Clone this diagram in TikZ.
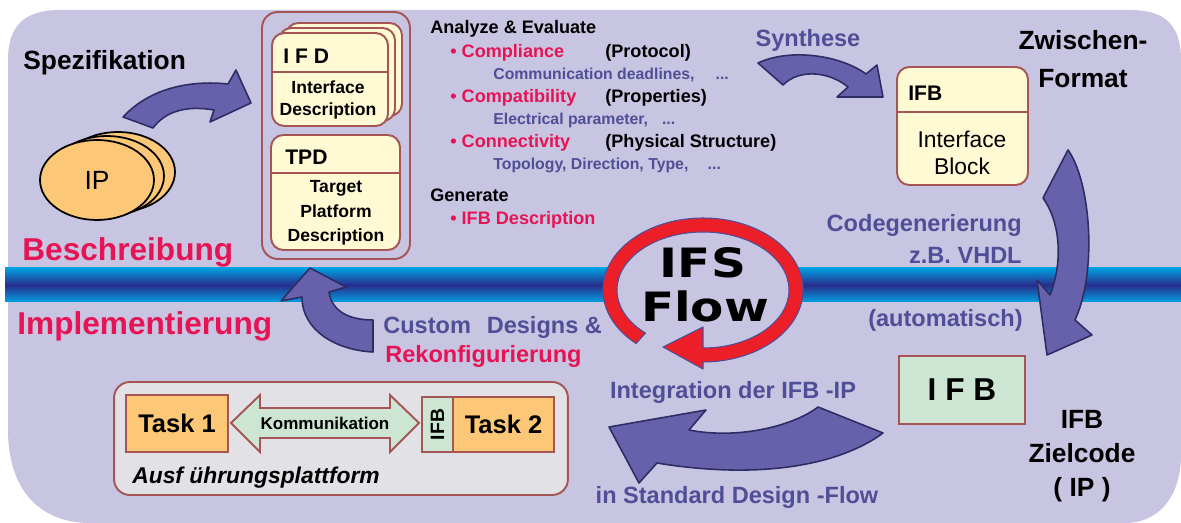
\documentclass[tikz,border=0pt]{standalone}
\usepackage{fontspec}
\setmainfont{Liberation Sans}
\newfontfamily\flowfont{DejaVu Sans}
\usetikzlibrary{shapes.geometric,positioning}
\definecolor{bgLav}{RGB}{200,197,226}
\definecolor{bandLight}{RGB}{0,160,225}
\definecolor{bandDark}{RGB}{40,45,140}
\definecolor{arrowFill}{RGB}{103,97,172}
\definecolor{arrowEdge}{RGB}{45,45,100}
\definecolor{boxEdge}{RGB}{165,85,85}
\definecolor{cardFill}{RGB}{255,250,212}
\definecolor{ipOrange}{RGB}{252,200,120}
\definecolor{ifbGreen}{RGB}{205,230,212}
\definecolor{platGray}{RGB}{226,226,230}
\definecolor{ringRed}{RGB}{236,30,40}
\definecolor{hotPink}{RGB}{230,20,85}
\definecolor{flowBlue}{RGB}{80,78,150}

\begin{document}
\begin{tikzpicture}[x=0.02cm, y=-0.02cm,
  fatarrow/.style={fill=arrowFill, draw=arrowEdge, line width=0.9pt, line join=round},
  solidbox/.style={draw=boxEdge, line width=1.1pt},
  card/.style={solidbox, fill=cardFill, rounded corners=7pt},
  ipblob/.style={ellipse, draw=black, line width=1pt, fill=ipOrange,
                 minimum width=2.28cm, minimum height=1.6cm, inner sep=0pt},
  title/.style={inner sep=0pt, font=\bfseries\fontsize{18}{20}\selectfont, text=hotPink},
  headtext/.style={inner sep=0pt, font=\bfseries\fontsize{15}{21.5}\selectfont, align=center},
  flowlabel/.style={inner sep=0pt, font=\bfseries\fontsize{13.4}{15}\selectfont, text=flowBlue},
  listhead/.style={inner sep=0pt, anchor=west, font=\bfseries\fontsize{10.3}{12}\selectfont},
  listred/.style={listhead, text=hotPink},
  listsub/.style={inner sep=0pt, anchor=west, font=\bfseries\fontsize{9}{11}\selectfont, text=flowBlue},
  cardtitle/.style={inner sep=0pt, anchor=west, font=\bfseries\fontsize{12}{14}\selectfont},
  cardtext/.style={inner sep=0pt, align=center, font=\bfseries\fontsize{10}{12}\selectfont},
  tasktext/.style={solidbox, inner sep=0pt, font=\bfseries\fontsize{14.5}{16}\selectfont}]
  \useasboundingbox (0,0) rectangle (1181,523);
  % Background
  \fill[bgLav] (8,60) .. controls (8,25) and (25,10) .. (60,10) -- (1130,10)
    .. controls (1165,10) and (1181,25) .. (1181,60) -- (1181,455)
    .. controls (1181,495) and (1160,523) .. (1125,523) -- (90,523)
    .. controls (40,523) and (8,490) .. (8,430) -- cycle;
  % Band between description and implementation
  \shade[top color=bandLight, bottom color=bandLight, middle color=bandDark]
    (5,268) rectangle (1181,302);

  % Side titles
  \node[title, anchor=west] (beschr) at (22,252) {Beschreibung};
  \node[title, anchor=west] (impl) at (17,326) {Implementierung};
  \node[headtext, anchor=west] (spez) at (23,63) {Spezifikation};

  % IP stack
  \node[ipblob] (ip3) at (118,172) {};
  \node[ipblob] (ip2) at (107,176) {};
  \node[ipblob, font=\fontsize{15}{16}\selectfont] (ip1) at (97,180) {IP};
  \filldraw[fatarrow] (123,117) .. controls (150,88) and (190,80) .. (228,84)
    -- (236,70) -- (251,103) -- (210,122) -- (214,110)
    .. controls (185,105) and (165,112) .. (153,128) -- cycle;

  % IFD / TPD
  \node[solidbox, rounded corners=9pt, minimum width=2.96cm, minimum height=4.94cm] (descbox) at (336,135.5) {};
  \node[card, minimum width=2.32cm, minimum height=1.86cm] (ifdc) at (344,69.5) {};
  \node[card, minimum width=2.32cm, minimum height=1.86cm] (ifdb) at (337,74.5) {};
  \node[card, minimum width=2.32cm, minimum height=1.86cm] (ifd) at (330,79.5) {};
  \draw[boxEdge, line width=0.8pt] (272,72) -- (388,72);
  \node[cardtitle] (ifdttl) at (283,56) {I F D};
  \node[cardtext] (ifdtxt) at (328,100) {Interface\\Description};
  \node[card, minimum width=2.58cm, minimum height=2.3cm] (tpd) at (335.5,192.5) {};
  \draw[boxEdge, line width=0.8pt] (271,173) -- (400,173);
  \node[cardtitle] (tpdttl) at (285,157) {TPD};
  \node[cardtext, font=\bfseries\fontsize{10}{13.9}\selectfont] (tpdtxt) at (336,213) {Target\\Platform\\Description};

  % Analyze / Generate list
  \node[listhead] (analyze) at (430,29) {Analyze \& Evaluate};
  \node[listred] (compl) at (450,53) {• Compliance};
  \node[listhead] (proto) at (605,53) {(Protocol)};
  \node[listsub] (deadl) at (493,75) {Communication deadlines,\hspace{12pt}...};
  \node[listred] (compat) at (450,98) {• Compatibility};
  \node[listhead] (props) at (605,98) {(Properties)};
  \node[listsub] (elec) at (493,120) {Electrical parameter,\hspace{8pt}...};
  \node[listred] (conn) at (450,143) {• Connectivity};
  \node[listhead] (phys) at (605,143) {(Physical Structure)};
  \node[listsub] (topo) at (493,165) {Topology, Direction, Type,\hspace{11pt}...};
  \node[listhead] (gen) at (430,195) {Generate};
  \node[listred] (ifbdesc) at (450,220) {• IFB Description};

  % Synthese
  \node[flowlabel] (synlbl) at (808,40) {Synthese};
  \filldraw[fatarrow] (758,63) .. controls (790,48) and (840,55) .. (866,74)
    -- (877,65) -- (883,97) -- (837,97) -- (848,87)
    .. controls (830,72) and (800,68) .. (783,85) -- cycle;
  \node[headtext] (zwf) at (1083,59) {Zwischen-\\Format};

  % Interface block
  \node[card, minimum width=2.62cm, minimum height=2.36cm] (ifb) at (962.5,126) {};
  \draw[boxEdge, line width=0.8pt] (897,112) -- (1028,112);
  \node[cardtitle] (ifbttl) at (908,93) {IFB};
  \node[inner sep=0pt, align=center, font=\fontsize{13}{15.3}\selectfont] (ifbtxt) at (962,153) {Interface\\Block};

  % Codegenerierung
  \filldraw[fatarrow] (1068,150) .. controls (1090,180) and (1098,270) .. (1075,320)
    -- (1092,335) -- (1047,355) -- (1037,280) -- (1050,295)
    .. controls (1062,265) and (1062,225) .. (1043,198) -- cycle;
  \node[flowlabel, anchor=east] (codegen) at (1022,225) {Codegenerierung};
  \node[flowlabel, anchor=east] (vhdl) at (1022,255) {z.B. VHDL};
  \node[flowlabel, anchor=east] (auto) at (1023,320) {(automatisch)};

  % Target code
  \node[solidbox, fill=ifbGreen, minimum width=2.52cm, minimum height=1.36cm,
        font=\bfseries\fontsize{18}{20}\selectfont] (ifbcode) at (962,390) {I F B};
  \node[headtext, font=\bfseries\fontsize{15}{19.3}\selectfont] (ziel) at (1082,456) {IFB\\Zielcode\\( IP )};

  % IFS Flow ring
  \fill[bgLav] (703,290) ellipse (88 and 60);
  \filldraw[fill=ringRed, draw=flowBlue, line width=0.6pt, line join=round]
    (703,290) ++(132:100 and 72)
    arc[start angle=132, end angle=450, x radius=100, y radius=72]
    -- (703,369) -- (663,347) -- (703,327) -- (703,348)
    arc[start angle=450, end angle=132, x radius=86, y radius=58] -- cycle;
  \node[font=\flowfont\bfseries\fontsize{23}{24}\selectfont, xscale=1.2] (ifs) at (703,263) {IFS};
  \node[font=\flowfont\bfseries\fontsize{23}{24}\selectfont, xscale=1.2] (flow) at (705,306) {Flow};

  % Integration
  \node[flowlabel] (integ) at (733,392) {Integration der IFB -IP};
  \filldraw[fatarrow] (609,427) -- (706,410) -- (689,430)
    .. controls (740,440) and (795,425) .. (818,407) -- (883,433)
    .. controls (840,465) and (760,480) .. (657,463) -- (639,483) -- cycle;
  \node[flowlabel] (stdflow) at (737,497) {in Standard Design -Flow};

  % Rekonfigurierung
  \filldraw[fatarrow] (310,268) -- (346,287) -- (329,292)
    .. controls (332,312) and (350,320) .. (373,320) -- (373,352)
    .. controls (335,350) and (302,330) .. (302,297) -- (281,301) -- cycle;
  \node[flowlabel, anchor=west] (custom) at (383,327) {Custom\hspace{9pt}Designs \&};
  \node[flowlabel, anchor=west, text=hotPink] (rekonf) at (385,356) {Rekonfigurierung};

  % Platform
  \node[solidbox, fill=platGray, rounded corners=9pt, minimum width=9.08cm, minimum height=2.26cm] (plat) at (341,438.5) {};
  \node[tasktext, fill=ipOrange, minimum width=2.04cm, minimum height=1.14cm] (task1) at (177,423.5) {Task 1};
  \filldraw[solidbox, fill=ifbGreen, line join=miter] (231,423) -- (260,395) -- (260,408) -- (390,408)
    -- (390,395) -- (419,423) -- (390,452) -- (390,438) -- (260,438) -- (260,452) -- cycle;
  \node[inner sep=0pt, font=\bfseries\fontsize{9.7}{11}\selectfont] (komm) at (325,423) {Kommunikation};
  \node[solidbox, fill=ifbGreen, rotate=90, minimum width=1.1cm, minimum height=0.62cm,
        inner sep=0pt, font=\bfseries\fontsize{11}{12}\selectfont] (ifbv) at (437.5,424.5) {IFB};
  \node[tasktext, fill=ipOrange, minimum width=2.02cm, minimum height=1.1cm] (task2) at (503.5,424.5) {Task 2};
  \node[inner sep=0pt, anchor=west, font=\bfseries\itshape\fontsize{13}{15}\selectfont] (plattxt) at (132,478) {Ausf ührungsplattform};
\end{tikzpicture}
\end{document}
